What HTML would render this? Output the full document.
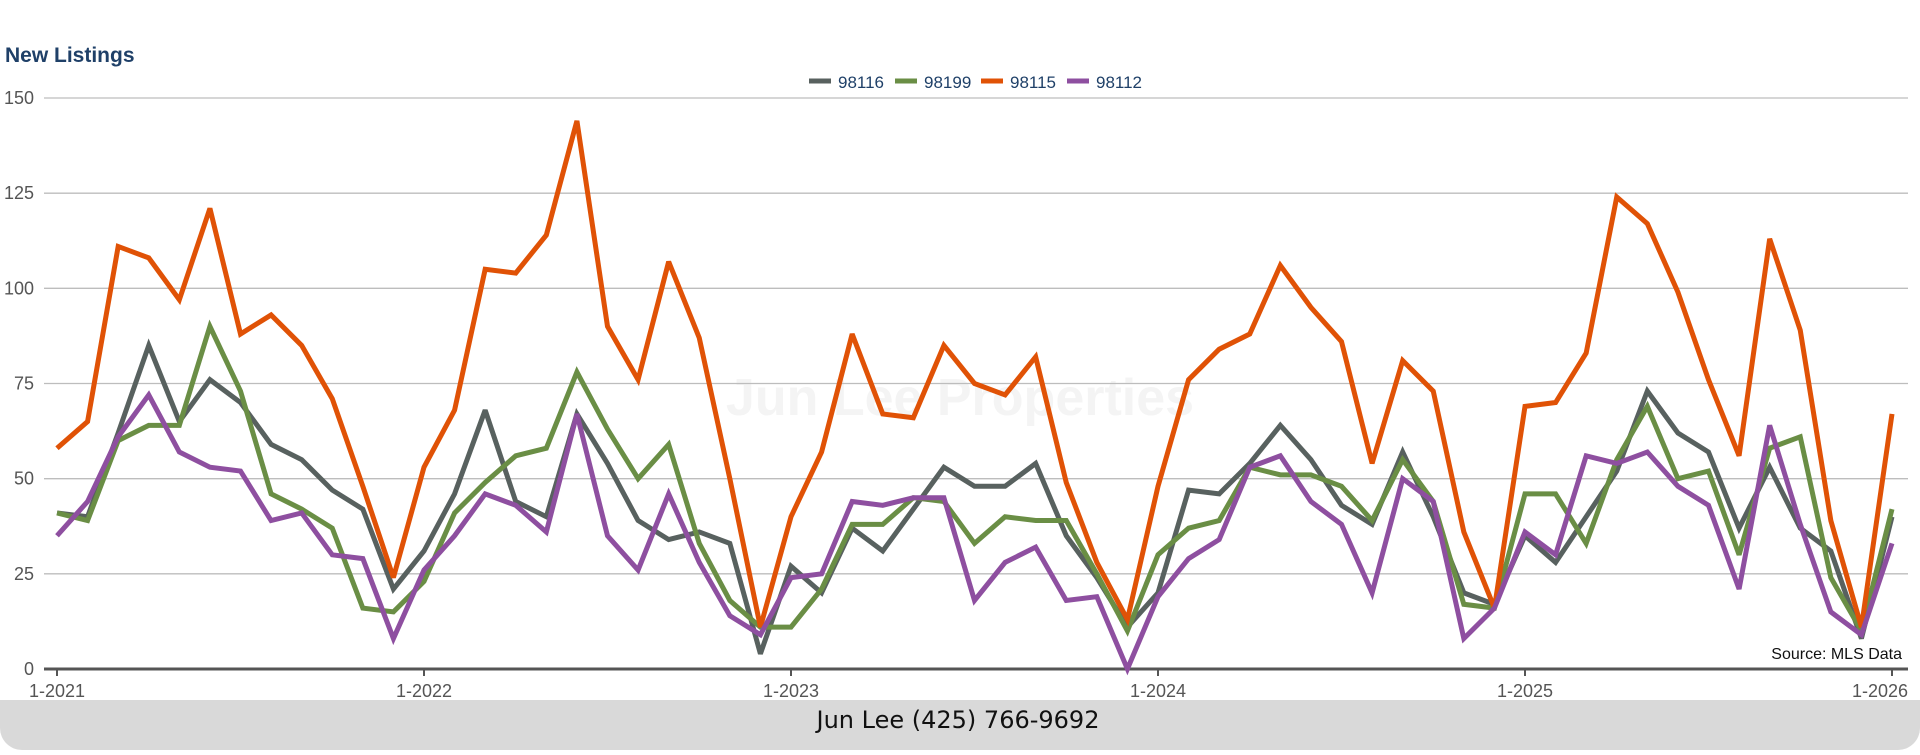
<!DOCTYPE html>
<html><head><meta charset="utf-8"><style>
body{margin:0;background:#fff;width:1920px;height:750px;overflow:hidden;font-family:"Liberation Sans",sans-serif}
</style></head><body>
<svg id="chart" width="1920" height="750" xmlns="http://www.w3.org/2000/svg">
<rect x="0" y="700" width="1920" height="50" rx="22" fill="#d9d9d9"/>
<rect x="0" y="700" width="1920" height="25" fill="#d9d9d9"/>
<text x="5" y="62" font-size="21" font-weight="bold" fill="#1f4068">New Listings</text>
<text x="960" y="415" text-anchor="middle" font-size="52" font-weight="bold" fill="#f4f4f4">Jun Lee Properties</text>
<g id="grid"></g><g id="lines"></g><g id="legend"></g>
<text x="1902" y="659" text-anchor="end" font-size="16" fill="#111">Source: MLS Data</text>
<text x="958" y="728" text-anchor="middle" font-size="24" fill="#111" font-family="DejaVu Sans, sans-serif">Jun Lee (425) 766-9692</text>
</svg>
<script>
const seriesNames=["98116","98199","98115","98112"];
const colors=["#58615f","#6a8e45","#e05206","#8e4fa0"];
const yTicks=[0,25,50,75,100,125,150];
const xTickLabels=["1-2021","1-2022","1-2023","1-2024","1-2025","1-2026"];
const s98116=[41,40,62,85,65,76,70,59,55,47,42,21, 31,46,68,44,40,67,54,39,34,36,33,4, 27,20,37,31,42,53,48,48,54,35,24,11, 20,47,46,54,64,55,43,38,57,40,20,17, 35,28,40,52,73,62,57,37,53,37,31,8, 40];
const s98199=[41,39,60,64,64,90,73,46,42,37,16,15, 23,41,49,56,58,78,63,50,59,33,18,11, 11,21,38,38,45,44,33,40,39,39,25,10, 30,37,39,53,51,51,48,39,55,44,17,16, 46,46,33,55,69,50,52,30,58,61,24,10, 42];
const s98115=[58,65,111,108,97,121,88,93,85,71,48,24, 53,68,105,104,114,144,90,76,107,87,50,11, 40,57,88,67,66,85,75,72,82,49,28,13, 48,76,84,88,106,95,86,54,81,73,36,16, 69,70,83,124,117,99,76,56,113,89,39,11, 67];
const s98112=[35,44,61,72,57,53,52,39,41,30,29,8, 26,35,46,43,36,67,35,26,46,28,14,9, 24,25,44,43,45,45,18,28,32,18,19,0, 19,29,34,53,56,44,38,20,50,44,8,16, 36,30,56,54,57,48,43,21,64,38,15,9, 33];
const allSeries=[s98116,s98199,s98115,s98112];
const NS="http://www.w3.org/2000/svg";
const x0=57,x1=1892,y0=669,y1=98,n=61;
const xs=i=>x0+(x1-x0)*i/(n-1);
const ys=v=>y0-(y0-y1)*v/150;
function mk(t,a){const e=document.createElementNS(NS,t);for(const k in a)e.setAttribute(k,a[k]);return e;}
const grid=document.getElementById('grid');
yTicks.forEach(v=>{
  if(v>0){const l=mk('line',{x1:44,x2:1908,y1:ys(v),y2:ys(v),stroke:'#bdbdbd','stroke-width':1.3});
  
  grid.appendChild(l);}
  const t=mk('text',{x:34,y:ys(v)+6,'text-anchor':'end','font-size':18,fill:'#555'});t.textContent=v;
  
  grid.appendChild(t);
});
const ax=mk('line',{x1:44,x2:1908,y1:y0,y2:y0,stroke:'#555','stroke-width':3});

grid.appendChild(ax);
xTickLabels.forEach((lab,k)=>{
  const x=xs(k*12);
  const tk=mk('line',{x1:x,x2:x,y1:y0,y2:y0+7,stroke:'#555','stroke-width':2});
  
  grid.appendChild(tk);
  const t=mk('text',{x:k==5?x-12:x,y:697,'text-anchor':'middle','font-size':18,fill:'#555'});t.textContent=lab;
  
  grid.appendChild(t);
});
const lines=document.getElementById('lines');
allSeries.forEach((s,j)=>{
  const p=mk('polyline',{points:s.map((v,i)=>xs(i)+','+ys(v)).join(' '),fill:'none',stroke:colors[j],'stroke-width':5,'stroke-linejoin':'miter','stroke-miterlimit':3});
  
  lines.appendChild(p);
});
const lg=document.getElementById('legend');
let lx=809;
seriesNames.forEach((nm,j)=>{
  const g=mk('g',{});
  
  
  g.appendChild(mk('line',{x1:lx,x2:lx+22,y1:81,y2:81,stroke:colors[j],'stroke-width':5}));
  const t=mk('text',{x:lx+29,y:88,'font-size':17,fill:'#1f4068'});t.textContent=nm;g.appendChild(t);
  lg.appendChild(g);lx+=86;
});
</script>
</body></html>
